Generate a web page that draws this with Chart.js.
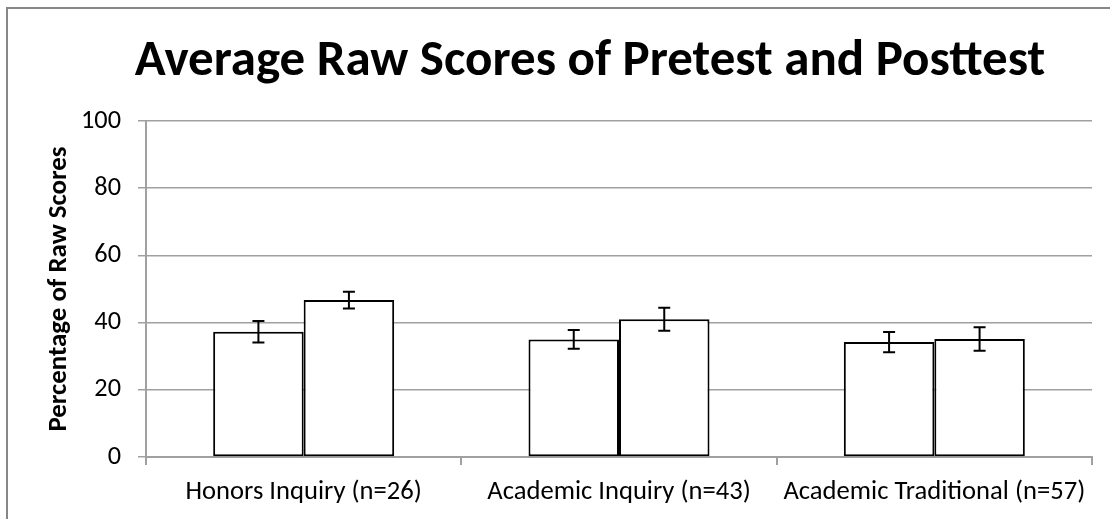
<!DOCTYPE html>
<html>
<head>
<meta charset="utf-8">
<script src="https://cdn.jsdelivr.net/npm/chart.js@4"></script>
<style>
html, body { margin: 0; padding: 0; background: #fff; }
#wrap { position: relative; width: 1110px; height: 519px; overflow: hidden; }
</style>
</head>
<body>
<div id="wrap"><canvas id="chart" width="1110" height="519"></canvas></div>
<script>
// --- Data ---
const titleText = 'Average Raw Scores of Pretest and Posttest';
const yTitle = 'Percentage of Raw Scores';
const categories = ['Honors Inquiry (n=26)', 'Academic Inquiry (n=43)', 'Academic Traditional (n=57)'];
const pretest = [37.3, 35.0, 34.2];
const posttest = [46.7, 41.0, 35.1];
const pretestErr = [3.2, 2.8, 3.0];
const posttestErr = [2.5, 3.4, 3.5];
const yTicks = [0, 20, 40, 60, 80, 100];

const FAMILY = 'Carlito, "Open Sans", sans-serif';

// pick a font size so the text gets a given width
const mctx = document.createElement('canvas').getContext('2d');
function fitSize(text, width, weight){
  mctx.font = `${weight} 100px ${FAMILY}`;
  return Math.round(1000*width/mctx.measureText(text).width)/10;
}
const titleSize = fitSize(titleText, 911, 'bold');
const yTitleSize = fitSize(yTitle, 285, 'bold');
const xLabelSize = fitSize(categories[0], 236, 'normal');
const yTickSize = fitSize('100', 40, 'normal');

const GRID = '#a0a0a0';

// border + title
const frame = {
  id: 'frame',
  beforeDraw(chart){
    const ctx = chart.ctx;
    ctx.save();
    ctx.strokeStyle = '#878787';
    ctx.lineWidth = 2;
    ctx.beginPath();
    ctx.moveTo(7, 600); ctx.lineTo(7, 8); ctx.lineTo(1200, 8);
    ctx.stroke();
    ctx.restore();
  },
  afterDraw(chart){
    const ctx = chart.ctx;
    ctx.save();
    ctx.font = `bold ${titleSize}px ${FAMILY}`;
    ctx.fillStyle = '#000';
    ctx.textAlign = 'center';
    ctx.textBaseline = 'alphabetic';
    ctx.fillText(titleText, 590, 75);
    ctx.restore();
  }
};

// error bars
const errorBars = {
  id: 'errorBars',
  afterDatasetsDraw(chart){
    const ctx = chart.ctx;
    const y = chart.scales.y;
    const errs = [pretestErr, posttestErr];
    ctx.save();
    ctx.strokeStyle = '#000';
    ctx.lineWidth = 2;
    chart.data.datasets.forEach((ds, i) => {
      const meta = chart.getDatasetMeta(i);
      meta.data.forEach((bar, j) => {
        const v = ds.data[j], e = errs[i][j];
        const top = y.getPixelForValue(v+e), bot = y.getPixelForValue(v-e);
        ctx.beginPath();
        ctx.moveTo(bar.x, top); ctx.lineTo(bar.x, bot);
        ctx.moveTo(bar.x-6, top); ctx.lineTo(bar.x+6, top);
        ctx.moveTo(bar.x-6, bot); ctx.lineTo(bar.x+6, bot);
        ctx.stroke();
      });
    });
    ctx.restore();
  }
};

const barStyle = { backgroundColor: '#fff', borderColor: '#000', borderWidth: 2, borderSkipped: false,
  categoryPercentage: 0.574, barPercentage: 1 };

new Chart(document.getElementById('chart'), {
  type: 'bar',
  data: {
    labels: categories,
    datasets: [
      { label: 'Pretest', data: pretest, ...barStyle },
      { label: 'Posttest', data: posttest, ...barStyle }
    ]
  },
  options: {
    responsive: false,
    animation: false,
    devicePixelRatio: 1,
    layout: { padding: { top: 121, left: 43, right: 18, bottom: 0 } },
    plugins: { legend: { display: false }, tooltip: { enabled: false }, title: { display: false } },
    scales: {
      x: {
        grid: { offset: true, drawOnChartArea: false, drawTicks: true, tickLength: 8, color: GRID, lineWidth: 2 },
        border: { color: GRID, width: 2 },
        ticks: { color: '#000', padding: 11, maxRotation: 0, autoSkip: false, font: { family: FAMILY, size: xLabelSize } },
        afterFit(s){ s.height = 62; }
      },
      y: {
        min: 0, max: 100,
        afterBuildTicks(s){ s.ticks = yTicks.map(v => ({ value: v })); },
        grid: { color: GRID, lineWidth: 1.5, tickLength: 8 },
        border: { color: GRID, width: 2 },
        ticks: { color: '#000', padding: 17, font: { family: FAMILY, size: yTickSize } },
        title: { display: true, text: yTitle, color: '#000', padding: 0, font: { family: FAMILY, size: yTitleSize, weight: 'bold' } },
        afterFit(s){ s.width = 103; }
      }
    }
  },
  plugins: [frame, errorBars]
});
</script>
</body>
</html>
